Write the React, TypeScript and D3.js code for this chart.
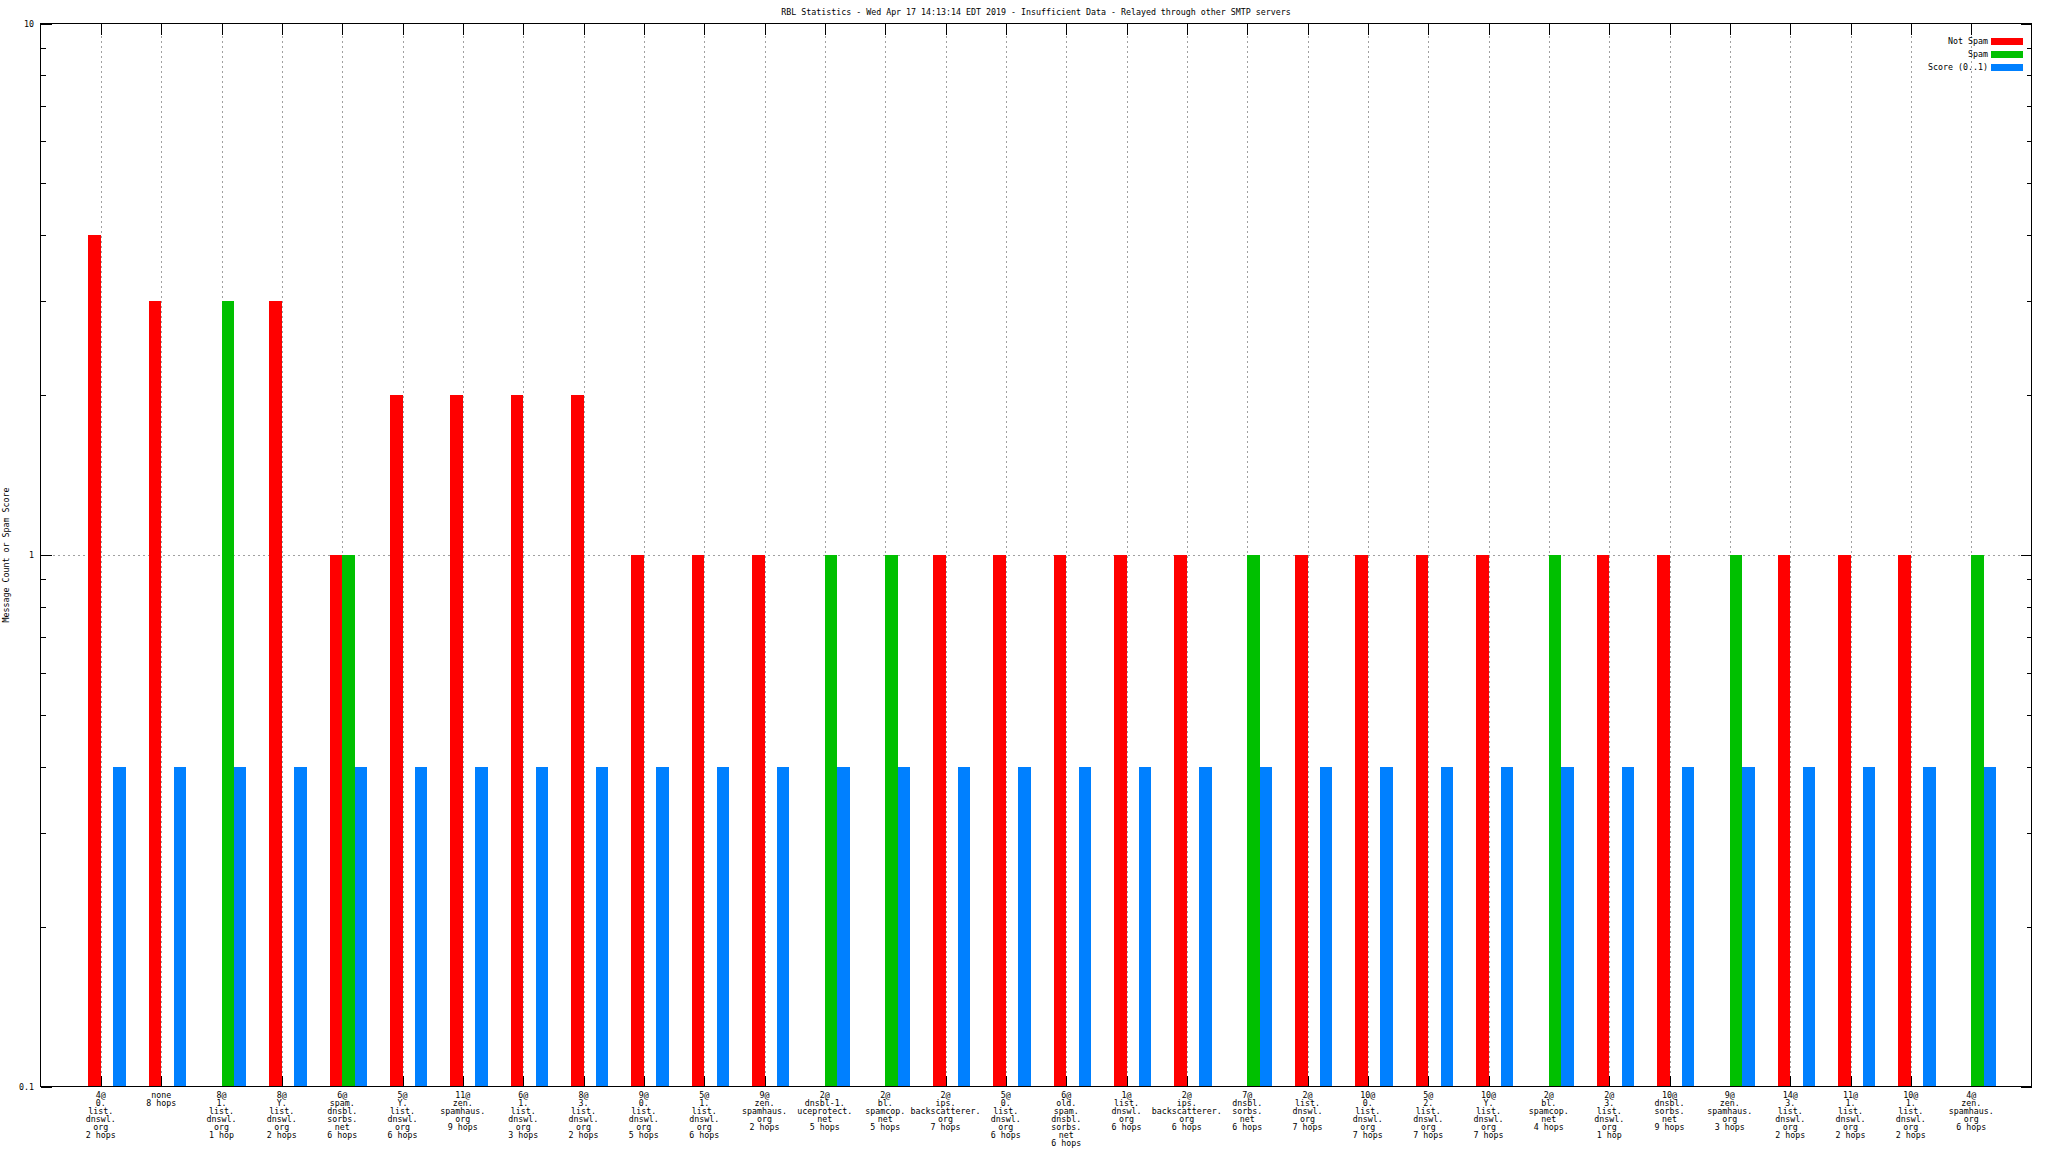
import React from "react";
import * as d3 from "d3";

const title =
  "RBL Statistics - Wed Apr 17 14:13:14 EDT 2019 - Insufficient Data - Relayed through other SMTP servers";
const yAxisLabel = "Message Count or Spam Score";

const categories: string[] = [
  "4@\n0.\nlist.\ndnswl.\norg\n2 hops",
  "none\n8 hops",
  "8@\n1.\nlist.\ndnswl.\norg\n1 hop",
  "8@\nY.\nlist.\ndnswl.\norg\n2 hops",
  "6@\nspam.\ndnsbl.\nsorbs.\nnet\n6 hops",
  "5@\nY.\nlist.\ndnswl.\norg\n6 hops",
  "11@\nzen.\nspamhaus.\norg\n9 hops",
  "6@\n1.\nlist.\ndnswl.\norg\n3 hops",
  "8@\n3.\nlist.\ndnswl.\norg\n2 hops",
  "9@\n0.\nlist.\ndnswl.\norg\n5 hops",
  "5@\n1.\nlist.\ndnswl.\norg\n6 hops",
  "9@\nzen.\nspamhaus.\norg\n2 hops",
  "2@\ndnsbl-1.\nuceprotect.\nnet\n5 hops",
  "2@\nbl.\nspamcop.\nnet\n5 hops",
  "2@\nips.\nbackscatterer.\norg\n7 hops",
  "5@\n0.\nlist.\ndnswl.\norg\n6 hops",
  "6@\nold.\nspam.\ndnsbl.\nsorbs.\nnet\n6 hops",
  "1@\nlist.\ndnswl.\norg\n6 hops",
  "2@\nips.\nbackscatterer.\norg\n6 hops",
  "7@\ndnsbl.\nsorbs.\nnet\n6 hops",
  "2@\nlist.\ndnswl.\norg\n7 hops",
  "10@\n0.\nlist.\ndnswl.\norg\n7 hops",
  "5@\n2.\nlist.\ndnswl.\norg\n7 hops",
  "10@\nY.\nlist.\ndnswl.\norg\n7 hops",
  "2@\nbl.\nspamcop.\nnet\n4 hops",
  "2@\n3.\nlist.\ndnswl.\norg\n1 hop",
  "10@\ndnsbl.\nsorbs.\nnet\n9 hops",
  "9@\nzen.\nspamhaus.\norg\n3 hops",
  "14@\n3.\nlist.\ndnswl.\norg\n2 hops",
  "11@\n1.\nlist.\ndnswl.\norg\n2 hops",
  "10@\n1.\nlist.\ndnswl.\norg\n2 hops",
  "4@\nzen.\nspamhaus.\norg\n6 hops",
];

const notSpam: (number | null)[] = [
  4, 3, null, 3, 1, 2, 2, 2, 2, 1, 1, 1, null, null, 1, 1, 1, 1, 1, null, 1, 1, 1, 1, null, 1, 1, null, 1, 1, 1, null,
];
const spam: (number | null)[] = [
  null, null, 3, null, 1, null, null, null, null, null, null, null, 1, 1, null, null, null, null, null, 1, null, null, null, null, 1, null, null, 1, null, null, null, 1,
];
const score: (number | null)[] = [
  0.4, 0.4, 0.4, 0.4, 0.4, 0.4, 0.4, 0.4, 0.4, 0.4, 0.4, 0.4, 0.4, 0.4, 0.4, 0.4, 0.4, 0.4, 0.4, 0.4, 0.4, 0.4, 0.4, 0.4, 0.4, 0.4, 0.4, 0.4, 0.4, 0.4, 0.4, 0.4,
];

const seriesNames = ["Not Spam", "Spam", "Score (0..1)"];
const seriesColors = ["#ff0000", "#00c000", "#0080ff"];
const yMajorTicks = [0.1, 1, 10];
const yTickLabels = ["0.1", "1", "10"];

const W = 2048;
const H = 1152;
const L = 40.5;
const R = 2031.5;
const T = 23.5;
const B = 1086.5;
const FONT = "'DejaVu Sans Mono', monospace";
const FS = 8.3;

export default function App() {
  const n = categories.length;
  const x = d3.scaleLinear().domain([-1, n]).range([L, R]);
  const y = d3.scaleLog().domain([0.1, 10]).range([B, T]);
  const bw = x(0.205) - x(0);
  const series = [notSpam, spam, score];
  const offsets = [-1, 0, 1];

  const minorTicks: number[] = [];
  [0.1, 1].forEach((d) => {
    for (let k = 2; k <= 9; k++) minorTicks.push(d * k);
  });

  const snap = (v: number) => Math.round(v) + 0.5;

  return (
    <svg
      width={W}
      height={H}
      style={{ position: "absolute", left: 0, top: 0, background: "#fff" }}
      fontFamily={FONT}
      fontSize={FS}
    >
      <rect x={0} y={0} width={W} height={H} fill="#fff" />
      {/* grid */}
      <g stroke="#a0a0a0" strokeWidth={1} strokeDasharray="2,3" shapeRendering="crispEdges">
        {categories.map((_, i) => (
          <line key={"gx" + i} x1={snap(x(i))} x2={snap(x(i))} y1={T + 12} y2={B} />
        ))}
        <line x1={L + 12} x2={R - 12} y1={snap(y(1))} y2={snap(y(1))} />
      </g>
      {/* ticks */}
      <g stroke="#000" strokeWidth={1} shapeRendering="crispEdges">
        {categories.map((_, i) => (
          <g key={"tx" + i}>
            <line x1={snap(x(i))} x2={snap(x(i))} y1={T} y2={T + 11} />
            <line x1={snap(x(i))} x2={snap(x(i))} y1={B} y2={B - 11} />
          </g>
        ))}
        {yMajorTicks.map((v) => (
          <g key={"ty" + v}>
            <line x1={L} x2={L + 11} y1={snap(y(v))} y2={snap(y(v))} />
            <line x1={R} x2={R - 11} y1={snap(y(v))} y2={snap(y(v))} />
          </g>
        ))}
        {minorTicks.map((v) => (
          <g key={"tm" + v}>
            <line x1={L} x2={L + 5} y1={snap(y(v))} y2={snap(y(v))} />
            <line x1={R} x2={R - 5} y1={snap(y(v))} y2={snap(y(v))} />
          </g>
        ))}
      </g>
      {/* bars */}
      <g shapeRendering="crispEdges">
        {series.map((vals, s) =>
          vals.map((v, i) =>
            v == null ? null : (
              <rect
                key={"b" + s + "-" + i}
                x={x(i) + offsets[s] * bw}
                y={y(v)}
                width={bw}
                height={B - y(v)}
                fill={seriesColors[s]}
              />
            )
          )
        )}
      </g>
      {/* frame */}
      <rect
        x={L}
        y={T}
        width={R - L}
        height={B - T}
        fill="none"
        stroke="#000"
        strokeWidth={1}
        shapeRendering="crispEdges"
      />
      {/* y tick labels */}
      {yMajorTicks.map((v, i) => (
        <text key={"yl" + v} x={34} y={y(v) + 3} textAnchor="end" fill="#000">
          {yTickLabels[i]}
        </text>
      ))}
      {/* x labels */}
      {categories.map((c, i) => (
        <text key={"xl" + i} x={x(i)} y={1098} textAnchor="middle" fill="#000">
          {c.split("\n").map((line, j) => (
            <tspan key={j} x={x(i)} y={1098 + j * 8}>
              {line}
            </tspan>
          ))}
        </text>
      ))}
      {/* title */}
      <text x={(L + R) / 2} y={15} textAnchor="middle" fill="#000">
        {title}
      </text>
      {/* y axis label */}
      <text
        transform={`translate(9, ${(T + B) / 2}) rotate(-90)`}
        textAnchor="middle"
        fill="#000"
      >
        {yAxisLabel}
      </text>
      {/* legend */}
      {seriesNames.map((name, s) => (
        <g key={"lg" + s}>
          <text x={1988} y={41 + s * 13 + 3} textAnchor="end" fill="#000">
            {name}
          </text>
          <rect x={1991} y={38 + s * 13} width={32} height={7} fill={seriesColors[s]} />
        </g>
      ))}
    </svg>
  );
}
